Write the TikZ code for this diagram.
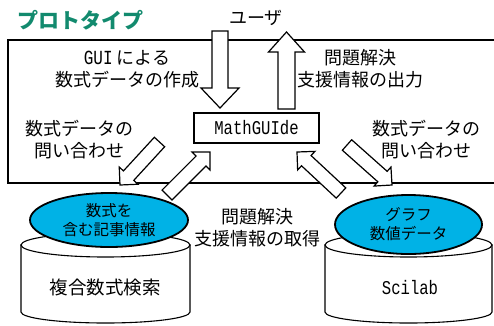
\documentclass[tikz,border=0pt]{standalone}
\usepackage{fontspec}
\setmainfont{Noto Sans CJK JP}
\newfontfamily\monofont{Liberation Mono}[FakeStretch=0.8]
\usetikzlibrary{calc,shapes.geometric}
\definecolor{protogreen}{RGB}{18,138,110}
\definecolor{dbblue}{RGB}{0,178,230}

\begin{document}
\begin{tikzpicture}[x=1pt,y=-1pt,
  lbl/.style={align=center,font=\fontsize{18}{22}\selectfont},
  dbtext/.style={align=center,font=\fontsize{15.5}{19}\selectfont},
  dbdisc/.style={ellipse,draw,line width=1.8pt,fill=dbblue,inner sep=0pt},
  dbbody/.style={draw,fill=white,line width=1.1pt},
  blockarrow/.style n args={3}{draw,fill=white,line width=1.2pt,
    to path={($(\tikztostart)!#1!90:(\tikztotarget)$)
      -- ($($(\tikztotarget)!#3!(\tikztostart)$)!#1!90:(\tikztotarget)$)
      -- ($($(\tikztotarget)!#3!(\tikztostart)$)!#2!90:(\tikztotarget)$)
      -- (\tikztotarget)
      -- ($($(\tikztotarget)!#3!(\tikztostart)$)!#2!-90:(\tikztotarget)$)
      -- ($($(\tikztotarget)!#3!(\tikztostart)$)!#1!-90:(\tikztotarget)$)
      -- ($(\tikztostart)!#1!-90:(\tikztotarget)$) -- cycle}}]
\useasboundingbox (0,0) rectangle (494,325);

% prototype frame
\draw[line width=1.1pt] (8,40) rectangle (500,183);

% databases
\draw[dbbody] (21,245) -- (21,312) arc[start angle=180,end angle=0,x radius=84.5,y radius=11] -- (190,245) -- cycle;
\draw[dbbody] (105.5,245) ellipse[x radius=84.5,y radius=12];
\draw[dbbody] (325,245) -- (325,312) arc[start angle=180,end angle=0,x radius=83.5,y radius=11] -- (492,245) -- cycle;
\draw[dbbody] (408.5,245) ellipse[x radius=83.5,y radius=12];
\node[dbdisc,dbtext,minimum width=158pt,minimum height=54pt] (artdisc) at (109,220) {数式を\\含む記事情報};
\node[dbdisc,dbtext,minimum width=147pt,minimum height=59pt] (grdisc) at (408.5,224.5) {グラフ\\数値データ};
\node[lbl,font=\fontsize{18.5}{22}\selectfont] (search) at (105,287) {複合数式検索};
\node[font=\monofont\fontsize{19.5}{22}\selectfont] (scilab) at (410,288) {Scilab};

% block arrows
\coordinate (inT) at (220,31);
\coordinate (inH) at (220,108);
\coordinate (outT) at (286.5,109);
\coordinate (outH) at (286.5,32);
\coordinate (qlT) at (159.5,142);
\coordinate (qlH) at (120,185);
\coordinate (rlT) at (167,195);
\coordinate (rlH) at (210,152);
\coordinate (rrT) at (341,193);
\coordinate (rrH) at (297,152);
\coordinate (qrT) at (347,145);
\coordinate (qrH) at (392,185);
\draw[blockarrow={8pt}{19pt}{20pt}] (inT) to (inH);
\draw[blockarrow={8.5pt}{18pt}{20pt}] (outT) to (outH);
\draw[blockarrow={7pt}{12.7pt}{12.7pt}] (qlT) to (qlH);
\draw[blockarrow={7pt}{12.7pt}{12.7pt}] (rlT) to (rlH);
\draw[blockarrow={7pt}{12.7pt}{12.7pt}] (rrT) to (rrH);
\draw[blockarrow={7pt}{12.7pt}{12.7pt}] (qrT) to (qrH);

\node[draw,line width=1.1pt,minimum width=125pt,minimum height=30pt,
  font=\monofont\fontsize{19.5}{22}\selectfont] (mathguide) at (256.5,128) {MathGUIde};

% labels
\node[text=protogreen,font=\bfseries\fontsize{21}{24}\selectfont] (title) at (80,20) {プロトタイプ};
\node[lbl] (user) at (256,18) {ユーザ};
\node[lbl] (mkdata) at (127,69) {{\monofont\fontsize{20}{22}\selectfont GUI} による\\数式データの作成};
\node[lbl] (output) at (360,69) {問題解決\\支援情報の出力};
\node[lbl] (askl) at (79,140) {数式データの\\問い合わせ};
\node[lbl] (askr) at (426,140) {数式データの\\問い合わせ};
\node[lbl] (fetch) at (257,228) {問題解決\\支援情報の取得};
\end{tikzpicture}
\end{document}
